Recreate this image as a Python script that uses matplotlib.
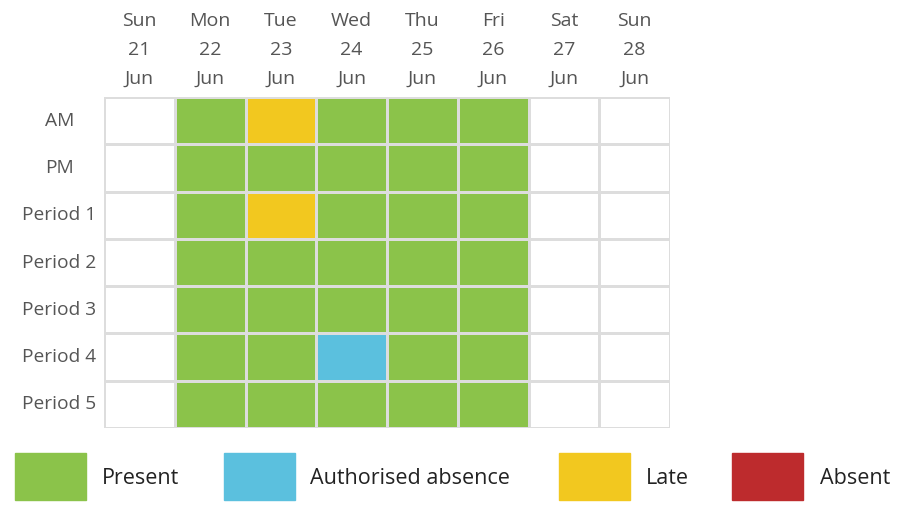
import matplotlib.pyplot as plt
from matplotlib.colors import ListedColormap
import numpy as np

# column / row labels
days = ["Sun\n21\nJun", "Mon\n22\nJun", "Tue\n23\nJun", "Wed\n24\nJun",
        "Thu\n25\nJun", "Fri\n26\nJun", "Sat\n27\nJun", "Sun\n28\nJun"]
sessions = ["AM", "PM", "Period 1", "Period 2", "Period 3", "Period 4", "Period 5"]

# 0 = no data, 1 = present, 2 = authorised absence, 3 = late, 4 = absent
status = [
    [0, 1, 3, 1, 1, 1, 0, 0],
    [0, 1, 1, 1, 1, 1, 0, 0],
    [0, 1, 3, 1, 1, 1, 0, 0],
    [0, 1, 1, 1, 1, 1, 0, 0],
    [0, 1, 1, 1, 1, 1, 0, 0],
    [0, 1, 1, 2, 1, 1, 0, 0],
    [0, 1, 1, 1, 1, 1, 0, 0],
]
legend_labels = ["Present", "Authorised absence", "Late", "Absent"]

colors = ["#ffffff", "#8bc34a", "#5bc0de", "#f2c81f", "#bd2b2d"]

W, H = 903, 514
fig = plt.figure(figsize=(W / 100, H / 100), dpi=100)
plt.rcParams['font.family'] = ['Open Sans', 'DejaVu Sans']

# main grid
ax = fig.add_axes([104 / W, (H - 428) / H, 566 / W, 331 / H])
cmap = ListedColormap(colors)
ax.pcolormesh(np.array(status), cmap=cmap, vmin=-0.5, vmax=4.5,
              edgecolors="#dddddd", linewidth=2)
ax.set_xlim(0, len(days))
ax.set_ylim(len(sessions), 0)
for s in ax.spines.values():
    s.set_visible(False)
ax.set_xticks([])
ax.set_yticks([])

text_col = "#555555"
row_h = 331 / len(sessions)
for i, d in enumerate(days):
    ax.text(i + 0.5, -(97 - 50) / row_h, d, ha="center", va="center",
            fontsize=14, color=text_col, linespacing=1.75)
for j, s in enumerate(sessions):
    ax.text(-0.63, j + 0.5, s, ha="center", va="center", fontsize=13.8,
            color=text_col)

# legend
box_x = [15, 224, 559, 732]
lab_x = [102, 310, 646, 820]
for k, lab in enumerate(legend_labels):
    fig.patches.append(plt.Rectangle((box_x[k] / W, (H - 500) / H), 71 / W, 47 / H,
                                     transform=fig.transFigure, color=colors[k + 1]))
    fig.text(lab_x[k] / W, (H - 478) / H, lab, ha="left", va="center",
             fontsize=15.5, color="#222222")

fig.savefig("out.png", dpi=100)
